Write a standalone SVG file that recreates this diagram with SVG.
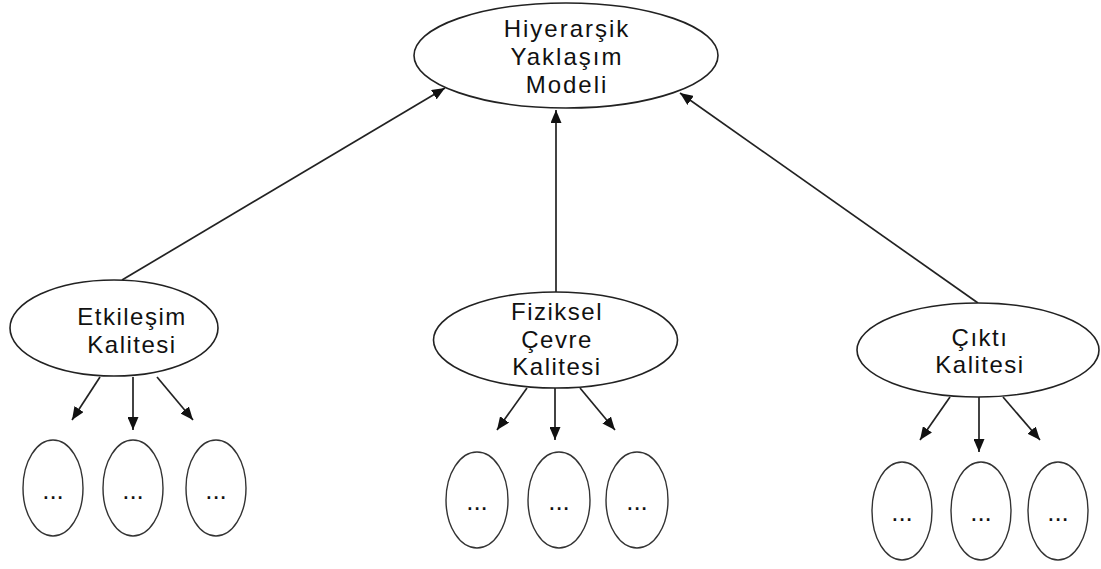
<svg xmlns="http://www.w3.org/2000/svg" width="1101" height="569" viewBox="0 0 1101 569">
  <style>
    .node { fill: #ffffff; stroke: #222222; stroke-width: 1.6; }
    .leaf { fill: #ffffff; stroke: #333333; stroke-width: 1.4; }
    .label { font-family: "Liberation Sans", Arial, sans-serif; font-size: 24px; fill: #111111; text-anchor: middle; letter-spacing: 1.5px; }
    .title { letter-spacing: 2px; }
    .dots { font-family: "Liberation Sans", Arial, sans-serif; font-size: 26px; fill: #111111; text-anchor: middle; }
    .edge { fill: none; stroke: #222222; stroke-width: 1.7; marker-end: url(#arrow); }
  </style>
  <defs>
    <marker id="arrow" viewBox="0 0 13 11" refX="13" refY="5.5" markerWidth="13" markerHeight="11" markerUnits="userSpaceOnUse" orient="auto">
      <path d="M0,0 L13,5.5 L0,11 z" fill="#111111"/>
    </marker>
  </defs>
  <rect width="1101" height="569" fill="#ffffff"/>

  <g id="connectors">
    <line class="edge" x1="122" y1="280" x2="445" y2="88"/>
    <line class="edge" x1="556" y1="292" x2="556" y2="110"/>
    <line class="edge" x1="978" y1="303" x2="680" y2="93"/>
    <line class="edge" x1="100" y1="377" x2="72" y2="420"/>
    <line class="edge" x1="133" y1="377" x2="133" y2="430"/>
    <line class="edge" x1="157" y1="377" x2="193" y2="420"/>
    <line class="edge" x1="527" y1="388" x2="497" y2="430"/>
    <line class="edge" x1="555" y1="388" x2="555" y2="440"/>
    <line class="edge" x1="580" y1="388" x2="615" y2="430"/>
    <line class="edge" x1="950" y1="397" x2="920" y2="440"/>
    <line class="edge" x1="979" y1="397" x2="979" y2="452"/>
    <line class="edge" x1="1003" y1="397" x2="1040" y2="440"/>
  </g>

  <g id="hiyerarsik-model">
    <ellipse class="node" cx="566" cy="55.5" rx="152" ry="52.5"/>
    <text class="label title" x="567" y="37">Hiyerarşik</text>
    <text class="label title" x="567" y="65">Yaklaşım</text>
    <text class="label title" x="567" y="93">Modeli</text>
  </g>

  <g id="etkilesim-kalitesi">
    <ellipse class="node" cx="114" cy="328" rx="104" ry="48"/>
    <text class="label" x="132" y="325">Etkileşim</text>
    <text class="label" x="132" y="353">Kalitesi</text>
  </g>

  <g id="fiziksel-cevre-kalitesi">
    <ellipse class="node" cx="555.5" cy="340" rx="122" ry="48"/>
    <text class="label" x="557" y="320">Fiziksel</text>
    <text class="label" x="557" y="348">Çevre</text>
    <text class="label" x="557" y="375">Kalitesi</text>
  </g>

  <g id="cikti-kalitesi">
    <ellipse class="node" cx="978" cy="350" rx="121" ry="47"/>
    <text class="label" x="980" y="346">Çıktı</text>
    <text class="label" x="980" y="373">Kalitesi</text>
  </g>

  <g id="etkilesim-alt-1"><ellipse class="leaf" cx="53" cy="488" rx="30" ry="48"/><text class="dots" x="53" y="499">...</text></g>
  <g id="etkilesim-alt-2"><ellipse class="leaf" cx="133" cy="488" rx="30" ry="48"/><text class="dots" x="133" y="499">...</text></g>
  <g id="etkilesim-alt-3"><ellipse class="leaf" cx="216" cy="488" rx="30" ry="48"/><text class="dots" x="216" y="499">...</text></g>

  <g id="fiziksel-alt-1"><ellipse class="leaf" cx="477" cy="500" rx="31" ry="48"/><text class="dots" x="477" y="510">...</text></g>
  <g id="fiziksel-alt-2"><ellipse class="leaf" cx="559" cy="500" rx="31" ry="48"/><text class="dots" x="559" y="510">...</text></g>
  <g id="fiziksel-alt-3"><ellipse class="leaf" cx="637" cy="500" rx="31" ry="48"/><text class="dots" x="637" y="510">...</text></g>

  <g id="cikti-alt-1"><ellipse class="leaf" cx="902" cy="511" rx="30" ry="49"/><text class="dots" x="902" y="521">...</text></g>
  <g id="cikti-alt-2"><ellipse class="leaf" cx="981" cy="511" rx="30" ry="49"/><text class="dots" x="981" y="521">...</text></g>
  <g id="cikti-alt-3"><ellipse class="leaf" cx="1058" cy="511" rx="30" ry="49"/><text class="dots" x="1058" y="521">...</text></g>
</svg>
